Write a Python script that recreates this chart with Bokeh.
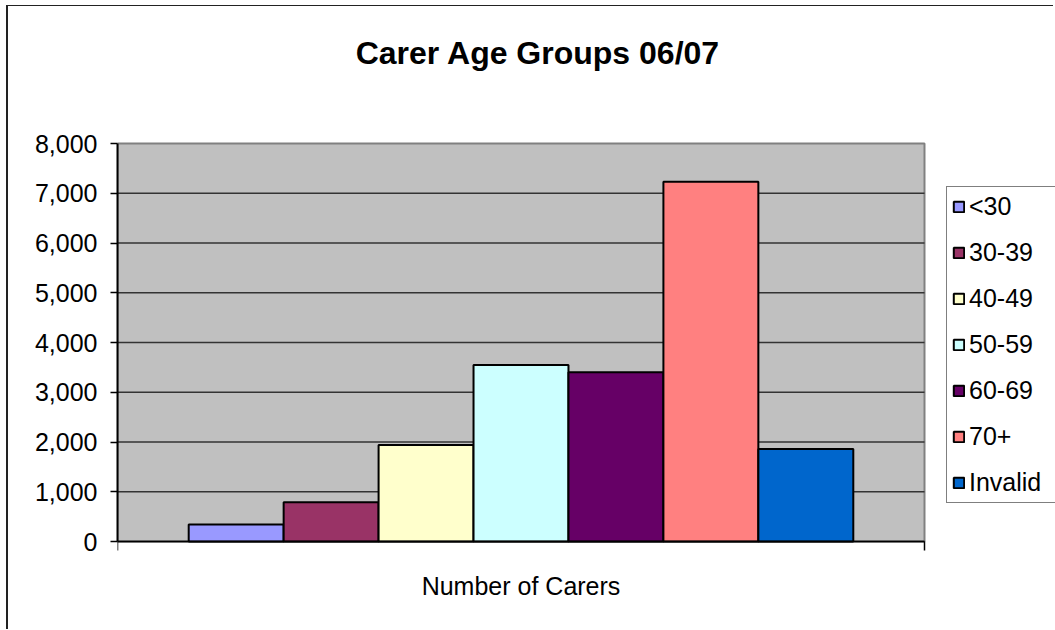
from bokeh.plotting import figure
from bokeh.models import (Range1d, FixedTicker, NumeralTickFormatter,
                          Legend, LegendItem, Label)
from bokeh.embed import file_html
from bokeh.resources import INLINE

# ---- data ----
groups = ["<30", "30-39", "40-49", "50-59", "60-69", "70+", "Invalid"]
carers = [340, 790, 1940, 3550, 3400, 7230, 1860]
colors = ["#9999FF", "#993366", "#FFFFCC", "#CCFFFF", "#660066", "#FF8080", "#0066CC"]
y_ticks = [0, 1000, 2000, 3000, 4000, 5000, 6000, 7000, 8000]
title_text = "Carer Age Groups 06/07"
x_label = "Number of Carers"

FONT = "Liberation Sans"
GAP = 1.5  # Excel gap width 150 %
n = len(groups)

# ---- layout (pixels) ----
W, H = 1047, 624
LEFT, BOTTOM = 109, 20          # side panels (y tick labels / x tick marks)
PLOT_W, PLOT_H = 807, 398       # size of the grey plot area
TOP_PX = 137                    # frame pixels above the plot area
FRAME_W, FRAME_H = W - LEFT, H - BOTTOM
BOT_PX = FRAME_H - TOP_PX - PLOT_H

x_end = (n + GAP) * FRAME_W / PLOT_W
y_per_px = (y_ticks[-1] - y_ticks[0]) / PLOT_H
y_start = y_ticks[0] - BOT_PX * y_per_px
y_end = y_ticks[-1] + TOP_PX * y_per_px

p = figure(width=W, height=H, output_backend="svg", toolbar_location=None,
           x_range=Range1d(0, x_end), y_range=Range1d(y_start, y_end),
           min_border_left=LEFT, min_border_right=0, min_border_top=0,
           min_border_bottom=BOTTOM,
           background_fill_color="white", border_fill_color="white")
p.styles = {"margin-left": "6px", "margin-top": "5px",
            "border-left": "2px solid #222222", "border-top": "1px solid #222222"}
p.outline_line_color = None

# grey plot area
p.quad(left=[0], right=[n + GAP], bottom=[y_ticks[0]], top=[y_ticks[-1]],
       fill_color="#C0C0C0", line_color="#808080", line_width=2)
# horizontal gridlines
p.segment(x0=[0] * (len(y_ticks) - 1), x1=[n + GAP] * (len(y_ticks) - 1),
          y0=y_ticks[:-1], y1=y_ticks[:-1], line_color="#333333", line_width=1.5)

items = []
for i, (g, v, c) in enumerate(zip(groups, carers, colors)):
    r = p.vbar(x=[GAP / 2 + i + 0.5], top=[v], bottom=0, width=1,
               fill_color=c, line_color="black", line_width=2)
    items.append(LegendItem(label=g, renderers=[r]))

p.xgrid.visible = False
p.ygrid.visible = False

# y axis
p.yaxis.bounds = (y_ticks[0], y_ticks[-1])
p.yaxis.ticker = FixedTicker(ticks=y_ticks)
p.yaxis.formatter = NumeralTickFormatter(format="0,0")
p.yaxis.major_label_text_font = FONT
p.yaxis.major_label_text_font_size = "25px"
p.yaxis.major_label_text_color = "black"
p.yaxis.major_tick_out = 7
p.yaxis.major_tick_in = 0
p.yaxis.minor_tick_out = 0
p.yaxis.minor_tick_in = 0
p.yaxis.major_label_standoff = 13
p.yaxis.axis_line_color = "black"
p.yaxis.axis_line_width = 2
p.yaxis.major_tick_line_color = "black"
p.yaxis.major_tick_line_width = 1.5

# x axis at value 0: only boundary tick marks (minor ticks, no labels)
p.xaxis.fixed_location = y_ticks[0]
p.xaxis.bounds = (0, n + GAP)
p.xaxis.ticker = FixedTicker(ticks=[], minor_ticks=[0, n + GAP])
p.xaxis.major_tick_out = 0
p.xaxis.major_tick_in = 0
p.xaxis.minor_tick_out = 9
p.xaxis.minor_tick_in = 0
p.xaxis.minor_tick_line_color = "black"
p.xaxis.minor_tick_line_width = 1.5
p.xaxis.axis_line_color = "black"
p.xaxis.axis_line_width = 1.5

# texts (screen units, relative to the frame's bottom-left corner)
p.add_layout(Label(x=420.5, y=FRAME_H - 46, x_units="screen", y_units="screen",
                   text=title_text, text_align="center", text_baseline="middle",
                   text_font=FONT, text_font_style="bold", text_font_size="32px",
                   text_color="black"))
p.add_layout(Label(x=PLOT_W / 2, y=BOT_PX - 44, x_units="screen", y_units="screen",
                   text=x_label, text_align="center", text_baseline="middle",
                   text_font=FONT, text_font_size="25px", text_color="black"))

legend = Legend(items=items, location=(829, BOT_PX + 38),
                label_text_font=FONT, label_text_font_size="25px",
                label_text_color="black", label_width=92,
                glyph_width=13, glyph_height=13, label_standoff=4,
                spacing=17, padding=5, margin=0,
                border_line_color="black", border_line_width=1,
                background_fill_color="white", background_fill_alpha=1)
p.add_layout(legend)

open("out.html", "w").write(file_html(p, INLINE))
